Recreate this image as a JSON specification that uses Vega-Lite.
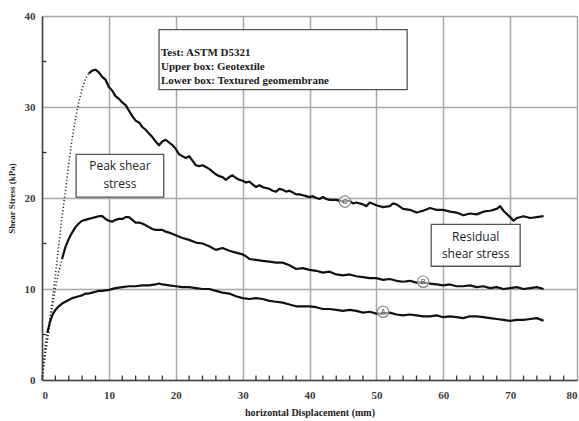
{
"$schema":"https://vega.github.io/schema/vega-lite/v6.json",
"width":535,"height":364,"autosize":"none",
"padding":{"left":42,"top":16,"right":2,"bottom":41},
"background":"white",
"config":{"view":{"stroke":"#8a8a8a","strokeWidth":1},
 "axis":{"grid":true,"gridColor":"#a8a8a8","gridWidth":1.5,"ticks":true,"tickColor":"transparent","tickSize":4,"domain":true,"domainColor":"#444","domainWidth":1.5}},
"datasets":{
"curves":[
{"s":"C","p":"rise","x":0,"y":0},{"s":"C","p":"rise","x":0.3,"y":2},{"s":"C","p":"rise","x":0.6,"y":3.8},{"s":"C","p":"rise","x":1,"y":5.8},{"s":"C","p":"rise","x":1.5,"y":8.5},{"s":"C","p":"rise","x":2,"y":11.5},{"s":"C","p":"rise","x":2.5,"y":14.8},{"s":"C","p":"rise","x":3,"y":18},{"s":"C","p":"rise","x":3.5,"y":20.8},{"s":"C","p":"rise","x":4,"y":23.8},{"s":"C","p":"rise","x":4.5,"y":26.5},{"s":"C","p":"rise","x":5,"y":28.7},{"s":"C","p":"rise","x":5.5,"y":30.5},{"s":"C","p":"rise","x":6,"y":32},{"s":"C","p":"rise","x":6.5,"y":33.1},{"s":"C","p":"rise","x":7,"y":33.7},
{"s":"C","p":"main","x":7,"y":33.7},{"s":"C","p":"main","x":7.5,"y":34.0},{"s":"C","p":"main","x":8,"y":34.1},{"s":"C","p":"main","x":8.5,"y":33.8},{"s":"C","p":"main","x":9,"y":33.3},{"s":"C","p":"main","x":9.5,"y":33.0},{"s":"C","p":"main","x":10,"y":32.2},{"s":"C","p":"main","x":10.5,"y":31.8},{"s":"C","p":"main","x":11,"y":31.2},{"s":"C","p":"main","x":11.5,"y":30.9},{"s":"C","p":"main","x":12,"y":30.5},{"s":"C","p":"main","x":12.5,"y":30.2},{"s":"C","p":"main","x":13,"y":29.6},{"s":"C","p":"main","x":13.5,"y":29.0},{"s":"C","p":"main","x":14,"y":28.5},{"s":"C","p":"main","x":14.5,"y":28.3},{"s":"C","p":"main","x":15,"y":27.8},{"s":"C","p":"main","x":15.5,"y":27.5},{"s":"C","p":"main","x":16,"y":27.1},{"s":"C","p":"main","x":16.5,"y":26.7},{"s":"C","p":"main","x":17,"y":26.2},{"s":"C","p":"main","x":17.5,"y":25.8},{"s":"C","p":"main","x":18,"y":26.2},{"s":"C","p":"main","x":18.5,"y":26.4},{"s":"C","p":"main","x":19,"y":26.1},{"s":"C","p":"main","x":19.5,"y":25.8},{"s":"C","p":"main","x":20,"y":25.4},{"s":"C","p":"main","x":20.5,"y":24.8},{"s":"C","p":"main","x":21,"y":24.6},{"s":"C","p":"main","x":21.5,"y":24.4},{"s":"C","p":"main","x":22,"y":24.6},{"s":"C","p":"main","x":22.5,"y":24.1},{"s":"C","p":"main","x":23,"y":23.6},{"s":"C","p":"main","x":23.5,"y":23.5},{"s":"C","p":"main","x":24,"y":23.6},{"s":"C","p":"main","x":24.5,"y":23.4},{"s":"C","p":"main","x":25,"y":23.2},{"s":"C","p":"main","x":25.5,"y":22.9},{"s":"C","p":"main","x":26,"y":22.6},{"s":"C","p":"main","x":26.5,"y":22.4},{"s":"C","p":"main","x":27,"y":22.3},{"s":"C","p":"main","x":27.5,"y":22.0},{"s":"C","p":"main","x":28,"y":22.3},{"s":"C","p":"main","x":28.5,"y":22.5},{"s":"C","p":"main","x":29,"y":22.2},{"s":"C","p":"main","x":29.5,"y":22.0},{"s":"C","p":"main","x":30,"y":21.9},{"s":"C","p":"main","x":30.5,"y":21.7},{"s":"C","p":"main","x":31,"y":21.8},{"s":"C","p":"main","x":31.5,"y":21.5},{"s":"C","p":"main","x":32,"y":21.2},{"s":"C","p":"main","x":32.5,"y":21.4},{"s":"C","p":"main","x":33,"y":21.2},{"s":"C","p":"main","x":33.5,"y":21.1},{"s":"C","p":"main","x":34,"y":21.0},{"s":"C","p":"main","x":34.5,"y":20.8},{"s":"C","p":"main","x":35,"y":20.7},{"s":"C","p":"main","x":35.5,"y":21.0},{"s":"C","p":"main","x":36,"y":20.9},{"s":"C","p":"main","x":36.5,"y":20.7},{"s":"C","p":"main","x":37,"y":20.8},{"s":"C","p":"main","x":37.5,"y":20.6},{"s":"C","p":"main","x":38,"y":20.4},{"s":"C","p":"main","x":38.5,"y":20.4},{"s":"C","p":"main","x":39,"y":20.3},{"s":"C","p":"main","x":39.5,"y":20.2},{"s":"C","p":"main","x":40,"y":20.1},{"s":"C","p":"main","x":40.5,"y":20.2},{"s":"C","p":"main","x":41,"y":20.0},{"s":"C","p":"main","x":41.5,"y":19.9},{"s":"C","p":"main","x":42,"y":20.1},{"s":"C","p":"main","x":42.5,"y":19.9},{"s":"C","p":"main","x":43,"y":19.8},{"s":"C","p":"main","x":44,"y":19.8},{"s":"C","p":"main","x":45,"y":19.6},{"s":"C","p":"main","x":46,"y":19.7},{"s":"C","p":"main","x":46.5,"y":19.4},{"s":"C","p":"main","x":47,"y":19.5},{"s":"C","p":"main","x":48,"y":19.3},{"s":"C","p":"main","x":48.5,"y":19.1},{"s":"C","p":"main","x":49,"y":19.5},{"s":"C","p":"main","x":50,"y":19.2},{"s":"C","p":"main","x":51,"y":19.0},{"s":"C","p":"main","x":52,"y":19.1},{"s":"C","p":"main","x":52.5,"y":19.4},{"s":"C","p":"main","x":53,"y":19.3},{"s":"C","p":"main","x":54,"y":18.8},{"s":"C","p":"main","x":55,"y":18.7},{"s":"C","p":"main","x":56,"y":18.4},{"s":"C","p":"main","x":57,"y":18.6},{"s":"C","p":"main","x":58,"y":18.9},{"s":"C","p":"main","x":59,"y":18.7},{"s":"C","p":"main","x":60,"y":18.7},{"s":"C","p":"main","x":61,"y":18.5},{"s":"C","p":"main","x":62,"y":18.4},{"s":"C","p":"main","x":63,"y":18.1},{"s":"C","p":"main","x":64,"y":18.3},{"s":"C","p":"main","x":65,"y":18.2},{"s":"C","p":"main","x":66,"y":18.5},{"s":"C","p":"main","x":67,"y":18.6},{"s":"C","p":"main","x":68,"y":18.8},{"s":"C","p":"main","x":68.5,"y":19.1},{"s":"C","p":"main","x":69,"y":18.6},{"s":"C","p":"main","x":70,"y":17.9},{"s":"C","p":"main","x":70.5,"y":17.5},{"s":"C","p":"main","x":71,"y":17.8},{"s":"C","p":"main","x":72,"y":18.0},{"s":"C","p":"main","x":73,"y":17.8},{"s":"C","p":"main","x":74,"y":17.9},{"s":"C","p":"main","x":75,"y":18.0},
{"s":"B","p":"rise","x":0,"y":0},{"s":"B","p":"rise","x":0.3,"y":1.8},{"s":"B","p":"rise","x":0.6,"y":3.3},{"s":"B","p":"rise","x":1,"y":5.2},{"s":"B","p":"rise","x":1.5,"y":7.8},{"s":"B","p":"rise","x":2,"y":10.1},{"s":"B","p":"rise","x":2.5,"y":11.9},{"s":"B","p":"rise","x":3,"y":13.3},
{"s":"B","p":"main","x":3,"y":13.3},{"s":"B","p":"main","x":3.5,"y":14.6},{"s":"B","p":"main","x":4,"y":15.5},{"s":"B","p":"main","x":4.5,"y":16.2},{"s":"B","p":"main","x":5,"y":16.8},{"s":"B","p":"main","x":5.5,"y":17.2},{"s":"B","p":"main","x":6,"y":17.5},{"s":"B","p":"main","x":6.5,"y":17.6},{"s":"B","p":"main","x":7,"y":17.7},{"s":"B","p":"main","x":7.5,"y":17.8},{"s":"B","p":"main","x":8,"y":17.9},{"s":"B","p":"main","x":8.5,"y":18.0},{"s":"B","p":"main","x":9,"y":18.0},{"s":"B","p":"main","x":9.5,"y":17.7},{"s":"B","p":"main","x":10,"y":17.5},{"s":"B","p":"main","x":10.5,"y":17.4},{"s":"B","p":"main","x":11,"y":17.6},{"s":"B","p":"main","x":11.5,"y":17.7},{"s":"B","p":"main","x":12,"y":17.7},{"s":"B","p":"main","x":12.5,"y":17.9},{"s":"B","p":"main","x":13,"y":17.9},{"s":"B","p":"main","x":13.5,"y":17.6},{"s":"B","p":"main","x":14,"y":17.3},{"s":"B","p":"main","x":14.5,"y":17.3},{"s":"B","p":"main","x":15,"y":17.2},{"s":"B","p":"main","x":15.5,"y":17.0},{"s":"B","p":"main","x":16,"y":16.8},{"s":"B","p":"main","x":16.5,"y":16.6},{"s":"B","p":"main","x":17,"y":16.5},{"s":"B","p":"main","x":17.5,"y":16.5},{"s":"B","p":"main","x":18,"y":16.5},{"s":"B","p":"main","x":18.5,"y":16.3},{"s":"B","p":"main","x":19,"y":16.2},{"s":"B","p":"main","x":20,"y":15.9},{"s":"B","p":"main","x":21,"y":15.6},{"s":"B","p":"main","x":22,"y":15.4},{"s":"B","p":"main","x":23,"y":15.1},{"s":"B","p":"main","x":24,"y":15.0},{"s":"B","p":"main","x":25,"y":14.7},{"s":"B","p":"main","x":26,"y":14.3},{"s":"B","p":"main","x":27,"y":14.5},{"s":"B","p":"main","x":28,"y":14.2},{"s":"B","p":"main","x":29,"y":14.0},{"s":"B","p":"main","x":30,"y":13.8},{"s":"B","p":"main","x":30.5,"y":13.6},{"s":"B","p":"main","x":31,"y":13.3},{"s":"B","p":"main","x":32,"y":13.2},{"s":"B","p":"main","x":33,"y":13.1},{"s":"B","p":"main","x":34,"y":13.0},{"s":"B","p":"main","x":35,"y":12.9},{"s":"B","p":"main","x":36,"y":12.9},{"s":"B","p":"main","x":37,"y":12.6},{"s":"B","p":"main","x":38,"y":12.2},{"s":"B","p":"main","x":39,"y":12.3},{"s":"B","p":"main","x":40,"y":12.1},{"s":"B","p":"main","x":41,"y":12.0},{"s":"B","p":"main","x":42,"y":11.8},{"s":"B","p":"main","x":43,"y":11.9},{"s":"B","p":"main","x":44,"y":11.6},{"s":"B","p":"main","x":45,"y":11.5},{"s":"B","p":"main","x":46,"y":11.6},{"s":"B","p":"main","x":47,"y":11.4},{"s":"B","p":"main","x":48,"y":11.3},{"s":"B","p":"main","x":49,"y":11.2},{"s":"B","p":"main","x":50,"y":11.2},{"s":"B","p":"main","x":51,"y":11.0},{"s":"B","p":"main","x":52,"y":11.1},{"s":"B","p":"main","x":53,"y":10.9},{"s":"B","p":"main","x":54,"y":10.8},{"s":"B","p":"main","x":55,"y":10.9},{"s":"B","p":"main","x":56,"y":10.7},{"s":"B","p":"main","x":57,"y":10.7},{"s":"B","p":"main","x":58,"y":10.6},{"s":"B","p":"main","x":59,"y":10.5},{"s":"B","p":"main","x":60,"y":10.4},{"s":"B","p":"main","x":61,"y":10.5},{"s":"B","p":"main","x":62,"y":10.3},{"s":"B","p":"main","x":63,"y":10.3},{"s":"B","p":"main","x":64,"y":10.4},{"s":"B","p":"main","x":65,"y":10.2},{"s":"B","p":"main","x":66,"y":10.3},{"s":"B","p":"main","x":67,"y":10.1},{"s":"B","p":"main","x":68,"y":10.2},{"s":"B","p":"main","x":69,"y":10.0},{"s":"B","p":"main","x":70,"y":10.1},{"s":"B","p":"main","x":71,"y":10.2},{"s":"B","p":"main","x":72,"y":10.0},{"s":"B","p":"main","x":73,"y":10.1},{"s":"B","p":"main","x":74,"y":10.2},{"s":"B","p":"main","x":75,"y":10.0},
{"s":"A","p":"rise","x":0,"y":0},{"s":"A","p":"rise","x":0.2,"y":1.5},{"s":"A","p":"rise","x":0.45,"y":3.7},{"s":"A","p":"rise","x":0.8,"y":5.2},
{"s":"A","p":"main","x":0.8,"y":5.2},{"s":"A","p":"main","x":1.2,"y":6.4},{"s":"A","p":"main","x":1.6,"y":7.2},{"s":"A","p":"main","x":2,"y":7.7},{"s":"A","p":"main","x":2.5,"y":8.1},{"s":"A","p":"main","x":3,"y":8.4},{"s":"A","p":"main","x":3.5,"y":8.6},{"s":"A","p":"main","x":4,"y":8.8},{"s":"A","p":"main","x":4.5,"y":9.0},{"s":"A","p":"main","x":5,"y":9.1},{"s":"A","p":"main","x":5.5,"y":9.2},{"s":"A","p":"main","x":6,"y":9.3},{"s":"A","p":"main","x":6.5,"y":9.5},{"s":"A","p":"main","x":7,"y":9.5},{"s":"A","p":"main","x":7.5,"y":9.6},{"s":"A","p":"main","x":8,"y":9.7},{"s":"A","p":"main","x":8.5,"y":9.8},{"s":"A","p":"main","x":9,"y":9.8},{"s":"A","p":"main","x":10,"y":9.9},{"s":"A","p":"main","x":11,"y":10.1},{"s":"A","p":"main","x":12,"y":10.2},{"s":"A","p":"main","x":13,"y":10.3},{"s":"A","p":"main","x":14,"y":10.3},{"s":"A","p":"main","x":15,"y":10.4},{"s":"A","p":"main","x":16,"y":10.4},{"s":"A","p":"main","x":17,"y":10.5},{"s":"A","p":"main","x":17.5,"y":10.6},{"s":"A","p":"main","x":18,"y":10.5},{"s":"A","p":"main","x":19,"y":10.4},{"s":"A","p":"main","x":20,"y":10.3},{"s":"A","p":"main","x":21,"y":10.2},{"s":"A","p":"main","x":22,"y":10.2},{"s":"A","p":"main","x":23,"y":10.1},{"s":"A","p":"main","x":24,"y":10.0},{"s":"A","p":"main","x":25,"y":10.0},{"s":"A","p":"main","x":26,"y":9.8},{"s":"A","p":"main","x":27,"y":9.6},{"s":"A","p":"main","x":28,"y":9.5},{"s":"A","p":"main","x":29,"y":9.2},{"s":"A","p":"main","x":30,"y":9.0},{"s":"A","p":"main","x":31,"y":8.9},{"s":"A","p":"main","x":32,"y":9.0},{"s":"A","p":"main","x":33,"y":8.9},{"s":"A","p":"main","x":34,"y":8.7},{"s":"A","p":"main","x":35,"y":8.6},{"s":"A","p":"main","x":36,"y":8.5},{"s":"A","p":"main","x":37,"y":8.3},{"s":"A","p":"main","x":38,"y":8.1},{"s":"A","p":"main","x":39,"y":8.1},{"s":"A","p":"main","x":40,"y":8.1},{"s":"A","p":"main","x":41,"y":8.0},{"s":"A","p":"main","x":42,"y":7.8},{"s":"A","p":"main","x":43,"y":7.8},{"s":"A","p":"main","x":44,"y":7.7},{"s":"A","p":"main","x":45,"y":7.6},{"s":"A","p":"main","x":46,"y":7.7},{"s":"A","p":"main","x":47,"y":7.6},{"s":"A","p":"main","x":48,"y":7.4},{"s":"A","p":"main","x":49,"y":7.5},{"s":"A","p":"main","x":50,"y":7.3},{"s":"A","p":"main","x":51,"y":7.3},{"s":"A","p":"main","x":52,"y":7.4},{"s":"A","p":"main","x":53,"y":7.2},{"s":"A","p":"main","x":54,"y":7.1},{"s":"A","p":"main","x":55,"y":7.2},{"s":"A","p":"main","x":56,"y":7.1},{"s":"A","p":"main","x":57,"y":7.0},{"s":"A","p":"main","x":58,"y":7.0},{"s":"A","p":"main","x":59,"y":7.1},{"s":"A","p":"main","x":60,"y":6.9},{"s":"A","p":"main","x":61,"y":7.0},{"s":"A","p":"main","x":62,"y":6.9},{"s":"A","p":"main","x":63,"y":6.8},{"s":"A","p":"main","x":64,"y":7.0},{"s":"A","p":"main","x":65,"y":7.0},{"s":"A","p":"main","x":66,"y":6.9},{"s":"A","p":"main","x":67,"y":6.8},{"s":"A","p":"main","x":68,"y":6.7},{"s":"A","p":"main","x":69,"y":6.6},{"s":"A","p":"main","x":70,"y":6.5},{"s":"A","p":"main","x":71,"y":6.6},{"s":"A","p":"main","x":72,"y":6.6},{"s":"A","p":"main","x":73,"y":6.7},{"s":"A","p":"main","x":74,"y":6.8},{"s":"A","p":"main","x":75,"y":6.5}
]},
"layer":[
 {"data":{"name":"curves"},"transform":[{"filter":"datum.p == 'rise'"}],
  "mark":{"type":"line","color":"#333","strokeWidth":1.6,"strokeDash":[1.2,2.2]},
  "encoding":{
   "x":{"field":"x","type":"quantitative","scale":{"domain":[0,80],"nice":false,"zero":false},
    "axis":{"title":"horizontal Displacement (mm)","values":[0,10,20,30,40,50,60,70,80],"labelPadding":5,"titleFontSize":10,"titlePadding":7,
     "labelFont":"Liberation Serif","labelFontWeight":"bold","labelFontSize":11,"labelColor":"#3b3b3b","titleFont":"Liberation Serif","titleFontWeight":"bold","titleColor":"#222"}},
   "y":{"field":"y","type":"quantitative","scale":{"domain":[0,40],"nice":false,"zero":false},
    "axis":{"title":"Shear Stress (kPa)","values":[0,10,20,30,40],"labelPadding":3,"titleFontSize":9,"titlePadding":8,
     "labelFont":"Liberation Serif","labelFontWeight":"bold","labelFontSize":11,"labelColor":"#3b3b3b","titleFont":"Liberation Serif","titleFontWeight":"bold","titleColor":"#222"}},
   "detail":{"field":"s"}}},
 {"data":{"name":"curves"},"transform":[{"filter":"datum.p == 'main'"}],
  "mark":{"type":"line","color":"#111","strokeWidth":2.2,"strokeJoin":"round"},
  "encoding":{"x":{"field":"x","type":"quantitative"},"y":{"field":"y","type":"quantitative"},"detail":{"field":"s"}}},
 {"data":{"values":[{"x":2,"y":0},{"x":4,"y":0},{"x":6,"y":0},{"x":8,"y":0},{"x":12,"y":0},{"x":14,"y":0},{"x":16,"y":0},{"x":18,"y":0},{"x":22,"y":0},{"x":24,"y":0},{"x":26,"y":0},{"x":28,"y":0},{"x":32,"y":0},{"x":34,"y":0},{"x":36,"y":0},{"x":38,"y":0},{"x":42,"y":0},{"x":44,"y":0},{"x":46,"y":0},{"x":48,"y":0},{"x":52,"y":0},{"x":54,"y":0},{"x":56,"y":0},{"x":58,"y":0},{"x":62,"y":0},{"x":64,"y":0},{"x":66,"y":0},{"x":68,"y":0},{"x":72,"y":0},{"x":74,"y":0},{"x":76,"y":0},{"x":78,"y":0}]},
  "mark":{"type":"tick","orient":"vertical","color":"#333","thickness":1.3,"size":9,"clip":true,"opacity":1},
  "encoding":{"x":{"field":"x","type":"quantitative"},"y":{"field":"y","type":"quantitative"}}},
 {"data":{"values":[{"x":0,"y":5},{"x":0,"y":15},{"x":0,"y":25},{"x":0,"y":35}]},
  "mark":{"type":"tick","orient":"horizontal","color":"#333","thickness":1.3,"size":9,"clip":true,"opacity":1},
  "encoding":{"x":{"field":"x","type":"quantitative"},"y":{"field":"y","type":"quantitative"}}},
 {"data":{"values":[{"lab":"C","x":45.3,"y":19.6},{"lab":"B","x":57,"y":10.8},{"lab":"A","x":51,"y":7.5}]},
  "mark":{"type":"point","shape":"circle","size":130,"filled":false,"fill":"white","fillOpacity":0.55,"stroke":"#888","strokeWidth":1.2},
  "encoding":{"x":{"field":"x","type":"quantitative"},"y":{"field":"y","type":"quantitative"}}},
 {"data":{"values":[{"lab":"C","x":45.3,"y":19.6},{"lab":"B","x":57,"y":10.8},{"lab":"A","x":51,"y":7.5}]},
  "mark":{"type":"text","font":"Liberation Sans","fontSize":7,"color":"#444","baseline":"middle","align":"center"},
  "encoding":{"x":{"field":"x","type":"quantitative"},"y":{"field":"y","type":"quantitative"},"text":{"field":"lab"}}},
 {"data":{"values":[{"x":17.5,"x2":54.6,"y":38.5,"y2":31.9},{"x":5.1,"x2":18.2,"y":24.8,"y2":20.1},{"x":58.2,"x2":71.5,"y":17.1,"y2":12.5}]},
  "mark":{"type":"rect","fill":"white","stroke":"#555","strokeWidth":1.3},
  "encoding":{"x":{"field":"x","type":"quantitative"},"y":{"field":"y","type":"quantitative"},"x2":{"field":"x2"},"y2":{"field":"y2"}}},
 {"data":{"values":[{"t":"Test: ASTM D5321","x":17.8,"y":35.9},{"t":"Upper box: Geotextile","x":17.8,"y":34.4},{"t":"Lower box: Textured geomembrane","x":17.8,"y":32.9}]},
  "mark":{"type":"text","font":"Liberation Serif","fontWeight":"bold","fontSize":11,"color":"#1a1a1a","align":"left","baseline":"middle"},
  "encoding":{"x":{"field":"x","type":"quantitative"},"y":{"field":"y","type":"quantitative"},"text":{"field":"t"}}},
 {"data":{"values":[{"t":"Peak shear","x":11.65,"y":23.5},{"t":"stress","x":11.65,"y":21.5},{"t":"Residual","x":64.85,"y":15.7},{"t":"shear stress","x":64.85,"y":13.8}]},
  "mark":{"type":"text","font":"Open Sans","fontSize":12,"color":"#222","align":"center","baseline":"middle"},
  "encoding":{"x":{"field":"x","type":"quantitative"},"y":{"field":"y","type":"quantitative"},"text":{"field":"t"}}}
]
}
